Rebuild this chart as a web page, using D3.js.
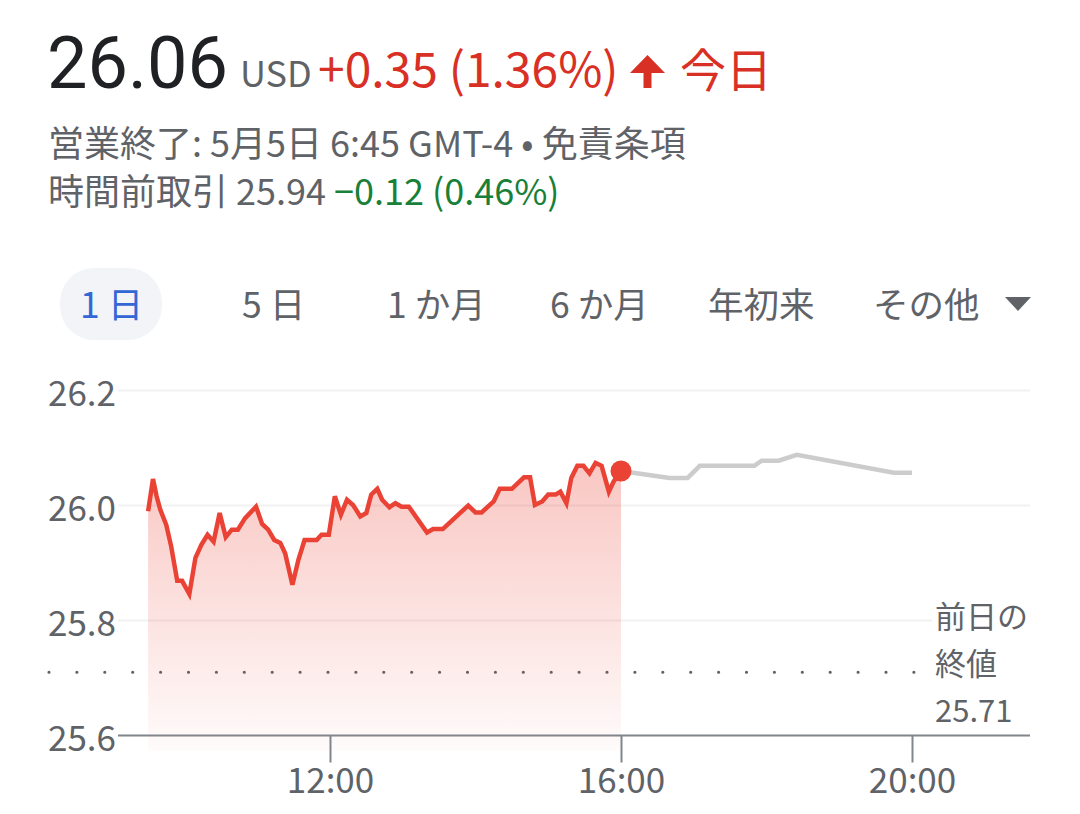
<!DOCTYPE html>
<html><head><meta charset="utf-8">
<script src="https://cdn.jsdelivr.net/npm/d3@7"></script>
<style>html,body{margin:0;padding:0;background:#fff;overflow:hidden}</style>
</head><body><svg id="c" width="1080" height="814"></svg>
<script>
// ---------- data ----------
const sessionTimes = ["9:30","9:34","9:37","9:40","9:45","9:49","9:54","9:58","10:04","10:09","10:14","10:19","10:24","10:29","10:34","10:39","10:44","10:50","10:59","11:04","11:09","11:14","11:19","11:23","11:29","11:34","11:39","11:49","11:53","11:59","12:04","12:09","12:14","12:19","12:25","12:30","12:34","12:39","12:43","12:49","12:54","12:59","13:05","13:20","13:25","13:33","13:54","14:00","14:05","14:15","14:20","14:30","14:40","14:45","14:49","14:55","15:00","15:06","15:10","15:15","15:19","15:24","15:29","15:34","15:39","15:44","15:50","15:54","16:00"];
const sessionPrices = [25.990,26.046,26.016,25.993,25.966,25.929,25.869,25.869,25.846,25.909,25.932,25.949,25.937,25.987,25.945,25.958,25.958,25.978,25.998,25.968,25.958,25.940,25.935,25.917,25.862,25.906,25.940,25.940,25.949,25.949,26.016,25.984,26.010,26.001,25.981,25.987,26.019,26.029,26.010,25.997,26.004,25.998,25.998,25.953,25.959,25.959,26.000,25.988,25.988,26.007,26.029,26.029,26.049,26.049,26.001,26.007,26.019,26.019,26.024,26.004,26.048,26.069,26.069,26.056,26.074,26.069,26.024,26.042,26.060];
const afterTimes = ["16:00","16:40","16:55","17:05","17:50","17:56","18:10","18:25","19:45","20:00"];
const afterPrices = [26.060,26.048,26.048,26.069,26.069,26.078,26.078,26.088,26.057,26.057];
const yTicks = [25.6, 25.8, 26.0, 26.2];
const xTicks = ["12:00", "16:00", "20:00"];
const previousClose = 25.71;
const prevCloseLabel = ["前日の", "終値", "25.71"];
const tabs = ["1 日", "5 日", "1 か月", "6 か月", "年初来", "その他"];
const priceText = "26.06", currencyText = "USD", changeText = "+0.35 (1.36%)", periodText = "今日";
const statusText = "営業終了: 5月5日 6:45 GMT-4 • 免責条項";
const preLabel = "時間前取引 25.94 ", preChange = "−0.12 (0.46%)";

// ---------- setup ----------
const JP = "'Noto Sans CJK JP','Noto Sans',sans-serif";
const toMin = s => { const [h, m] = s.split(":").map(Number); return h * 60 + m; };
const svg = d3.select("#c");

// header
svg.append("text").attr("x", 47).attr("y", 88).attr("font-family", "Roboto,sans-serif")
  .attr("font-size", 72).attr("fill", "#202124").text(priceText);
svg.append("text").attr("x", 240).attr("y", 87).attr("font-family", JP)
  .attr("font-size", 36).attr("fill", "#5f6368").text(currencyText);
svg.append("text").attr("x", 318).attr("y", 87).attr("font-family", JP)
  .attr("font-size", 48).attr("fill", "#d93025").text(changeText);
svg.append("path").attr("d", "M647.5,55 L630,73 L643.5,73 L643.5,88 L651.5,88 L651.5,73 L665,73 Z").attr("fill", "#d93025");
svg.append("text").attr("x", 680).attr("y", 87).attr("font-family", JP)
  .attr("font-size", 46).attr("fill", "#d93025").text(periodText);

svg.append("text").attr("x", 48).attr("y", 157).attr("font-family", JP)
  .attr("font-size", 36).attr("fill", "#5f6368").text(statusText);
const l3 = svg.append("text").attr("x", 48).attr("y", 205).attr("font-family", JP)
  .attr("font-size", 36).attr("fill", "#5f6368").attr("xml:space", "preserve");
l3.append("tspan").text(preLabel);
l3.append("tspan").attr("fill", "#188038").text(preChange);

// tabs
const tabX = [80, 242, 387, 550, 708, 873];
svg.append("rect").attr("x", 60).attr("y", 268).attr("width", 102).attr("height", 72).attr("rx", 34).attr("fill", "#f2f4f8");
svg.selectAll("text.tab").data(tabs).join("text").attr("class", "tab")
  .attr("x", (d, i) => tabX[i]).attr("y", 318).attr("font-family", JP).attr("font-size", 35.5)
  .attr("fill", (d, i) => i === 0 ? "#3367d6" : "#5f6368").attr("xml:space", "preserve").text(d => d);
svg.append("path").attr("d", "M1005,297 L1031,297 L1018,311 Z").attr("fill", "#5f6368");

// ---------- chart ----------
const x = d3.scaleLinear().domain([toMin("12:00"), toMin("20:00")]).range([330, 912]);
const y = d3.scaleLinear().domain([25.6, 26.2]).range([735.5, 390.5]);

// grid
svg.append("g").selectAll("line").data(yTicks.filter(v => v > 25.6)).join("line")
  .attr("x1", 118).attr("x2", d => d === 25.8 ? 932 : 1030)
  .attr("y1", d => y(d)).attr("y2", d => y(d))
  .attr("stroke", "#f1f1f1").attr("stroke-width", 2);

// y labels
const ga = svg.append("g").attr("transform", "translate(48,0)")
  .call(d3.axisRight(y).tickValues(yTicks).tickSize(0).tickPadding(0).tickFormat(d3.format(".1f")));
ga.attr("font-family", JP).attr("font-size", 35);
ga.select(".domain").remove();
ga.selectAll("text").attr("dy", null).attr("y", 15).attr("fill", "#5f6368");

// previous close dotted line
svg.append("line").attr("x1", 49).attr("x2", 914).attr("y1", y(previousClose)).attr("y2", y(previousClose))
  .attr("stroke", "#5f6368").attr("stroke-width", 3.2).attr("stroke-linecap", "round").attr("stroke-dasharray", "0 27.9");
svg.selectAll("text.pc").data(prevCloseLabel).join("text").attr("class", "pc")
  .attr("x", 935).attr("y", (d, i) => 628 + i * 47).attr("font-family", JP).attr("font-size", 31)
  .attr("fill", "#5f6368").text(d => d);

// area + lines
const session = sessionTimes.map((t, i) => ({ t: toMin(t), v: sessionPrices[i] }));
const after = afterTimes.map((t, i) => ({ t: toMin(t), v: afterPrices[i] }));
const defs = svg.append("defs");
const grad = defs.append("linearGradient").attr("id", "fillGrad").attr("x1", 0).attr("y1", 0).attr("x2", 0).attr("y2", 1);
grad.append("stop").attr("offset", 0).attr("stop-color", "#ea4335").attr("stop-opacity", 0.3);
grad.append("stop").attr("offset", 1).attr("stop-color", "#ea4335").attr("stop-opacity", 0.02);
svg.append("path").datum(session).attr("fill", "url(#fillGrad)")
  .attr("d", d3.area().x(d => x(d.t)).y0(751).y1(d => y(d.v)));

// x axis
svg.append("line").attr("x1", 118).attr("x2", 1030).attr("y1", 735.5).attr("y2", 735.5)
  .attr("stroke", "#80868b").attr("stroke-width", 2);
const gx = svg.append("g").attr("transform", "translate(0,735.5)")
  .call(d3.axisBottom(x).tickValues(xTicks.map(toMin)).tickSize(27).tickFormat((d, i) => xTicks[i]));
gx.attr("font-family", JP).attr("font-size", 35);
gx.select(".domain").remove();
gx.selectAll(".tick line").attr("stroke", "#80868b").attr("stroke-width", 2);
gx.selectAll("text").attr("dy", null).attr("y", 57).attr("fill", "#5f6368");

const line = d3.line().x(d => x(d.t)).y(d => y(d.v));
svg.append("path").datum(after).attr("fill", "none").attr("stroke", "#cccccc").attr("stroke-width", 4.5).attr("d", line);
svg.append("path").datum(session).attr("fill", "none").attr("stroke", "#ea4335").attr("stroke-width", 4.5).attr("d", line);
const last = session[session.length - 1];
svg.append("circle").attr("cx", x(last.t)).attr("cy", y(last.v)).attr("r", 10.5).attr("fill", "#ea4335");
</script></body></html>
